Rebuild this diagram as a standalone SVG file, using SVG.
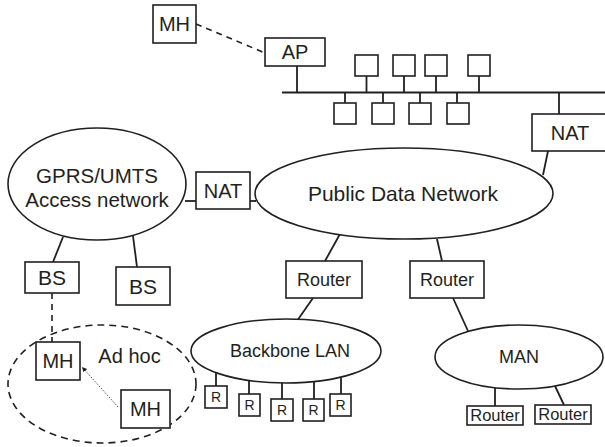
<svg xmlns="http://www.w3.org/2000/svg" width="605" height="447" viewBox="0 0 605 447">
<style>
.box{fill:#fff;stroke:#231f20;stroke-width:1.6}
.ell{fill:#fff;stroke:#231f20;stroke-width:1.6}
.ln{fill:none;stroke:#231f20;stroke-width:1.8}
.dash{fill:none;stroke:#231f20;stroke-width:1.6;stroke-dasharray:6,5}
.dot{fill:none;stroke:#231f20;stroke-width:0.8;stroke-dasharray:1.5,1.5}
.t{font-family:"Liberation Sans",Arial,sans-serif;fill:#231f20;text-anchor:middle}
.s20{font-size:20px}.s18{font-size:18px}.s16{font-size:16.5px}.s14{font-size:14px}.s21{font-size:21px}
</style>
<defs>
<marker id="ah" markerWidth="6" markerHeight="6" refX="5" refY="3" orient="auto" markerUnits="userSpaceOnUse">
<path d="M0,0.5 L5,3 L0,5.5 z" fill="#231f20"/>
</marker>
</defs>
<rect width="605" height="447" fill="#fff"/>
<g id="connectors">
<line class="dash" x1="196" y1="24" x2="265" y2="53"/>
<line class="ln" x1="297" y1="66" x2="297" y2="92.5"/>
<line class="ln" x1="282" y1="92.5" x2="605" y2="92.5"/>
<line class="ln" x1="366.5" y1="76" x2="366.5" y2="92.5"/>
<line class="ln" x1="404" y1="76" x2="404" y2="92.5"/>
<line class="ln" x1="436" y1="76" x2="436" y2="92.5"/>
<line class="ln" x1="479" y1="76" x2="479" y2="92.5"/>
<line class="ln" x1="345" y1="92.5" x2="345" y2="103"/>
<line class="ln" x1="383" y1="92.5" x2="383" y2="103"/>
<line class="ln" x1="420" y1="92.5" x2="420" y2="103"/>
<line class="ln" x1="457" y1="92.5" x2="457" y2="103"/>
<line class="ln" x1="559" y1="92.5" x2="559" y2="114"/>
<line class="ln" x1="548" y1="151" x2="543" y2="175"/>
<line class="ln" x1="185" y1="201" x2="196" y2="201"/>
<line class="ln" x1="250" y1="201" x2="256" y2="201"/>
<line class="ln" x1="63" y1="237" x2="53" y2="262"/>
<line class="ln" x1="133" y1="236" x2="137" y2="267"/>
<line class="dash" x1="52" y1="293" x2="52" y2="342"/>
<line class="dot" x1="118" y1="407" x2="82" y2="367" marker-end="url(#ah)"/>
<line class="ln" x1="340" y1="234" x2="325" y2="261"/>
<line class="ln" x1="437" y1="239" x2="442" y2="261"/>
<line class="ln" x1="313" y1="298" x2="298" y2="319.5"/>
<line class="ln" x1="453" y1="298" x2="468" y2="331"/>
<line class="ln" x1="216" y1="372" x2="216" y2="386"/>
<line class="ln" x1="249" y1="380" x2="249" y2="394"/>
<line class="ln" x1="282" y1="382" x2="282" y2="399"/>
<line class="ln" x1="314" y1="381" x2="314" y2="399"/>
<line class="ln" x1="341" y1="378" x2="341" y2="394"/>
<line class="ln" x1="495" y1="388" x2="495" y2="406"/>
<line class="ln" x1="555" y1="386" x2="564" y2="405"/>
</g>
<g id="mh-top"><rect class="box" x="153" y="5" width="43" height="38"/><text class="t s20" x="174.5" y="31">MH</text></g>
<g id="ap"><rect class="box" x="265" y="38" width="60" height="28"/><text class="t s20" x="295" y="59">AP</text></g>
<g id="hosts">
<rect class="box" x="355" y="55" width="23" height="21"/>
<rect class="box" x="393" y="55" width="22" height="21"/>
<rect class="box" x="425" y="55" width="22" height="21"/>
<rect class="box" x="468" y="55" width="22" height="21"/>
<rect class="box" x="334" y="103" width="22" height="21"/>
<rect class="box" x="372" y="103" width="22" height="21"/>
<rect class="box" x="409" y="103" width="22" height="21"/>
<rect class="box" x="447" y="103" width="22" height="21"/>
</g>
<g id="nat-right"><rect class="box" x="532" y="114" width="76" height="37"/><text class="t s20" x="570" y="140">NAT</text></g>
<g id="gprs"><ellipse class="ell" cx="97" cy="184" rx="89" ry="56"/><text class="t" style="font-size:20.5px" x="97" y="183">GPRS/UMTS</text><text class="t" style="font-size:20.5px" x="97" y="207">Access network</text></g>
<g id="nat-left"><rect class="box" x="196" y="172" width="54" height="37"/><text class="t s20" x="223" y="198">NAT</text></g>
<g id="pdn"><ellipse class="ell" cx="404" cy="193.5" rx="149" ry="45.5"/><text class="t s21" x="403" y="201">Public Data Network</text></g>
<g id="bs1"><rect class="box" x="25" y="262" width="54" height="31"/><text class="t s21" x="52" y="285">BS</text></g>
<g id="bs2"><rect class="box" x="116" y="267" width="54" height="38"/><text class="t s21" x="143" y="294">BS</text></g>
<g id="router1"><rect class="box" x="286" y="261" width="76" height="37"/><text class="t s18" x="324" y="286">Router</text></g>
<g id="router2"><rect class="box" x="410" y="261" width="74" height="37"/><text class="t s18" x="447" y="286">Router</text></g>
<g id="adhoc"><ellipse cx="102" cy="384" rx="94" ry="59" fill="none" stroke="#231f20" stroke-width="1.6" stroke-dasharray="7,5"/><text class="t s20" x="129.5" y="363">Ad hoc</text></g>
<g id="mh1"><rect class="box" x="36" y="342" width="44" height="38"/><text class="t s20" x="58" y="368">MH</text></g>
<g id="mh2"><rect class="box" x="121" y="390" width="49" height="38"/><text class="t s20" x="145.5" y="416">MH</text></g>
<g id="backbone"><ellipse class="ell" cx="286" cy="351" rx="95" ry="32"/><text class="t s18" x="290" y="357">Backbone LAN</text></g>
<g id="r-boxes">
<rect class="box" x="205" y="386" width="22" height="22"/><text class="t s14" x="216" y="402">R</text>
<rect class="box" x="239" y="394" width="21" height="22"/><text class="t s14" x="249.5" y="410">R</text>
<rect class="box" x="271" y="399" width="22" height="22"/><text class="t s14" x="282" y="415">R</text>
<rect class="box" x="303" y="399" width="21" height="22"/><text class="t s14" x="313.5" y="415">R</text>
<rect class="box" x="330" y="394" width="21" height="22"/><text class="t s14" x="340.5" y="410">R</text>
</g>
<g id="man"><ellipse class="ell" cx="519" cy="357" rx="84" ry="32"/><text class="t s18" x="519" y="363">MAN</text></g>
<g id="man-router1"><rect class="box" x="467" y="406" width="56" height="19" stroke-width="2.2"/><text class="t s16" x="495" y="421">Router</text></g>
<g id="man-router2"><rect class="box" x="535" y="405" width="56" height="19" stroke-width="2.2"/><text class="t s16" x="563" y="420">Router</text></g>
</svg>
